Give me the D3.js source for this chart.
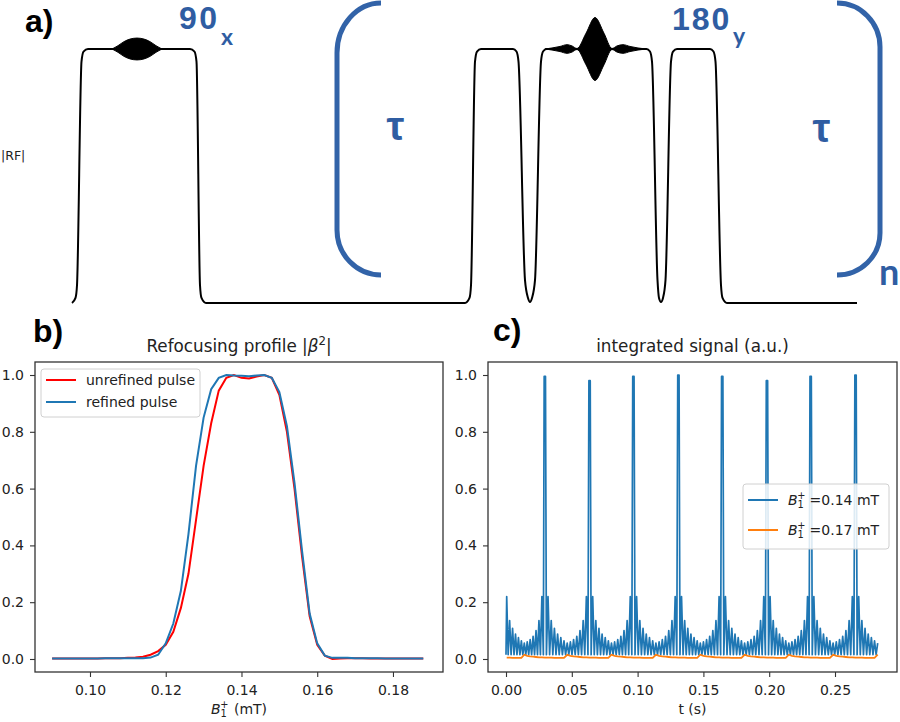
<!DOCTYPE html>
<html><head><meta charset="utf-8">
<script src="https://cdn.jsdelivr.net/npm/d3@7"></script>
<style>body{margin:0;background:#fff}svg{display:block}</style>
</head><body>
<svg id="chart" width="900" height="722"></svg>
<script>
// ================= DATA =================
// Panel a: |RF| envelope (sequence time units, normalised amplitude)
const rfTimes = [0,0.7,1.0,1.9,2.3,3.2,23.6,24.5,24.9,25.6,25.9,26.8,78.6,79.5,79.8,80.6,81.0,81.8,88.2,88.9,89.3,90.6,91.2,91.6,92.0,92.6,93.8,94.2,94.9,114.9,115.6,116.0,117.1,117.4,117.8,118.2,118.7,119.8,120.2,121.0,127.6,128.3,128.7,129.8,130.1,131.0,157];
const rfAmps  = [0,0.02,0.07,0.95,0.99,1,1,0.99,0.95,0.07,0.02,0,0,0.02,0.07,0.95,0.99,1,1,0.99,0.95,0.09,0.02,0.004,0.02,0.09,0.95,0.99,1,1,0.99,0.95,0.09,0.02,0.004,0.02,0.09,0.95,0.99,1,1,0.99,0.95,0.07,0.02,0,0];
// oscillating RF lobes drawn as filled envelopes (half-width about the plateau)
const lobe90Times = [8.0,9.2,10.4,11.6,13.0,14.4,15.6,16.8,18.0];
const lobe90Half  = [0,0.013,0.029,0.039,0.043,0.039,0.029,0.013,0];
const lobe180Times = [94.6,96.0,97.6,99.0,100.0,101.0,102.8,104.6,106.4,108.0,109.0,110.2,111.6,113.2,114.8];
const lobe180Half  = [0,0.004,0.010,0.017,0.012,0.002,0.062,0.124,0.062,0.002,0.012,0.017,0.010,0.004,0];

// Panel b: refocusing profile
const b1Values = [0.090,0.092,0.094,0.096,0.098,0.100,0.102,0.104,0.106,0.108,0.110,0.112,0.114,0.116,0.118,0.120,0.122,0.124,0.126,0.128,0.130,0.132,0.134,0.136,0.138,0.140,0.142,0.144,0.146,0.148,0.150,0.152,0.154,0.156,0.158,0.160,0.162,0.164,0.166,0.168,0.170,0.172,0.174,0.176,0.178,0.180,0.182,0.184,0.186,0.188];
const unrefined = [0.002,0.002,0.002,0.002,0.002,0.002,0.002,0.003,0.003,0.003,0.004,0.005,0.008,0.015,0.028,0.050,0.096,0.180,0.300,0.490,0.680,0.830,0.945,0.990,1.000,0.990,0.988,0.995,1.000,0.990,0.930,0.800,0.600,0.360,0.150,0.050,0.012,0.000,0.002,0.003,0.003,0.003,0.002,0.002,0.002,0.002,0.002,0.002,0.002,0.002];
const refined   = [0.002,0.002,0.002,0.002,0.002,0.002,0.002,0.003,0.003,0.003,0.003,0.003,0.003,0.005,0.015,0.055,0.125,0.240,0.440,0.680,0.850,0.950,0.990,1.000,0.998,0.997,0.996,0.998,1.000,0.990,0.940,0.820,0.620,0.380,0.160,0.055,0.012,0.004,0.004,0.004,0.003,0.003,0.003,0.003,0.002,0.002,0.002,0.002,0.002,0.002];
const bXTicks = [0.10,0.12,0.14,0.16,0.18];
const yTicks  = [0.0,0.2,0.4,0.6,0.8,1.0];

// Panel c: integrated signal (echo train)
const sigPeakTimes  = [-0.0017,0.0295,0.0635,0.0968,0.1310,0.1643,0.1983,0.2315,0.2656,0.2993]; // first/last are outside the record
const sigPeakValues = [null,0.995,0.980,0.995,1.000,0.995,0.980,0.995,1.000,null];
const sigPeakHalfWidth = 0.0005;
const sigToothLevels = [0.220,0.135,0.108,0.088,0.075,0.064,0.056,0.060,0.068,0.080,0.100,0.135,0.220];
const sigLowLevel = 0.015;
const sigOrangeTooth = [0.005,0.005,0.004,0.004,0.004,0.004,0.015,0.011,0.009,0.008,0.007,0.006,0.006];
const sigOrangePeak = 0.005;
const sigEnd = 0.2826;
const cXTicks = [0.00,0.05,0.10,0.15,0.20,0.25];

// ================= DRAW =================
const svg = d3.select('#chart');
svg.append('rect').attr('width',900).attr('height',722).attr('fill','#fff');
const MPL = 'DejaVu Sans, sans-serif';
const BLUE_TXT = '#2F5DA2';
const ARIAL = 'Liberation Sans, Arial, sans-serif';

// ---------- Panel a ----------
const xa = d3.scaleLinear().domain([0,157]).range([72,857]);
const ya = d3.scaleLinear().domain([0,1]).range([303,49]);
const ga = svg.append('g');
const rfData = rfTimes.map((t,i)=>[t, rfAmps[i]]);
ga.append('path').datum(rfData)
  .attr('d', d3.line().x(d=>xa(d[0])).y(d=>ya(d[1])).curve(d3.curveMonotoneX))
  .attr('fill','none').attr('stroke','#000').attr('stroke-width',2);
const lobeArea = d3.area().x(d=>xa(d[0])).y0(d=>ya(1-d[1])).y1(d=>ya(1+d[1])).curve(d3.curveMonotoneX);
ga.append('path').datum(lobe90Times.map((t,i)=>[t,lobe90Half[i]])).attr('d',lobeArea).attr('fill','#000').attr('stroke','#000').attr('stroke-width',1);
ga.append('path').datum(lobe180Times.map((t,i)=>[t,lobe180Half[i]])).attr('d',lobeArea).attr('fill','#000').attr('stroke','#000').attr('stroke-width',1);

// brackets
ga.append('path')
  .attr('d', `M381,3 A44,50 0 0 0 337,53 L337,230 A44,45 0 0 0 381,275`)
  .attr('fill','none').attr('stroke','#3263A8').attr('stroke-width',5).attr('stroke-linecap','butt');
ga.append('path')
  .attr('d', `M837,3 A43,44 0 0 1 880,47 L880,233 A43,42 0 0 1 837,275`)
  .attr('fill','none').attr('stroke','#3263A8').attr('stroke-width',5).attr('stroke-linecap','butt');

const lato = 'Lato, Carlito, sans-serif';
ga.append('text').attr('x',179).attr('y',29).attr('font-family',ARIAL).attr('font-weight','bold').attr('font-size',32).attr('letter-spacing',2.5).attr('fill',BLUE_TXT).text('90');
ga.append('text').attr('x',221).attr('y',45).attr('font-family',lato).attr('font-weight','bold').attr('font-size',23).attr('fill',BLUE_TXT).text('x');
ga.append('text').attr('x',672).attr('y',30).attr('font-family',ARIAL).attr('font-weight','bold').attr('font-size',32).attr('letter-spacing',2).attr('fill',BLUE_TXT).text('180');
ga.append('text').attr('x',733).attr('y',44).attr('font-family',lato).attr('font-weight','bold').attr('font-size',23).attr('fill',BLUE_TXT).text('y');
ga.append('text').attr('x',395.5).attr('y',140).attr('text-anchor','middle').attr('font-family',ARIAL).attr('font-weight','bold').attr('font-size',40).attr('fill',BLUE_TXT).text('τ');
ga.append('text').attr('x',821.5).attr('y',142).attr('text-anchor','middle').attr('font-family',ARIAL).attr('font-weight','bold').attr('font-size',40).attr('fill',BLUE_TXT).text('τ');
ga.append('text').attr('x',879).attr('y',285).attr('font-family',lato).attr('font-weight','bold').attr('font-size',36).attr('fill',BLUE_TXT).text('n');
ga.append('text').attr('x',1).attr('y',160).attr('font-family',MPL).attr('font-size',12.5).attr('fill','#222').text('|RF|');

// panel letters
const letter = (x,y,t)=>svg.append('text').attr('x',x).attr('y',y).attr('font-family',ARIAL).attr('font-weight','bold').attr('font-size',32).attr('fill','#000').text(t);
letter(25,31.5,'a)');
letter(33,341.5,'b)');
letter(493,341,'c)');

// ---------- helpers for b & c ----------
const FS = 14;
const FS_TITLE = 16.8;
function b1Label(txt, suffix, gap){
  txt.append('tspan').attr('font-style','italic').text('B');
  txt.append('tspan').attr('font-size',FS*0.7).attr('dy',3).text('1');
  txt.append('tspan').attr('font-size',FS*0.7).attr('dx',-6.5).attr('dy',-9.5).text('+');
  txt.append('tspan').attr('dx',gap).attr('dy',6.5).text(suffix);
}
function axesFrame(g, x0, x1, y0, y1){
  g.append('rect').attr('x',x0).attr('y',y0).attr('width',x1-x0).attr('height',y1-y0)
    .attr('fill','none').attr('stroke','#333').attr('stroke-width',1.3);
}
function styleAxis(sel){
  sel.select('.domain').remove();
  sel.selectAll('.tick line').attr('stroke','#333').attr('stroke-width',1.1);
  sel.selectAll('.tick text').attr('font-family',MPL).attr('font-size',FS).attr('fill','#222');
}
function legend(g, x, y, w, h, items){
  g.append('rect').attr('x',x).attr('y',y).attr('width',w).attr('height',h).attr('rx',3)
    .attr('fill','#fff').attr('fill-opacity',0.85).attr('stroke','#d0d0d0').attr('stroke-width',1);
  items.forEach((it,i)=>{
    const ly = y + it.first + i*it.gap;
    g.append('line').attr('x1',x+5).attr('x2',x+35).attr('y1',ly).attr('y2',ly).attr('stroke',it.color).attr('stroke-width',2);
    const t = g.append('text').attr('x',x+45).attr('y',ly+5).attr('font-family',MPL).attr('font-size',FS).attr('fill','#222');
    it.label(t);
  });
}

// ---------- Panel b ----------
const bL=35,bR=443,pTop=362,pBot=672;
const xb = d3.scaleLinear().domain([0.08548,0.19321]).range([bL,bR]);
const yv = d3.scaleLinear().domain([-0.0458,1.0458]).range([pBot,pTop]);
const gb = svg.append('g');
const lineB = d3.line().x(d=>xb(d[0])).y(d=>yv(d[1]));
gb.append('path').datum(b1Values.map((v,i)=>[v,unrefined[i]])).attr('d',lineB).attr('fill','none').attr('stroke','#ff0000').attr('stroke-width',2);
gb.append('path').datum(b1Values.map((v,i)=>[v,refined[i]])).attr('d',lineB).attr('fill','none').attr('stroke','#1f77b4').attr('stroke-width',2);
axesFrame(gb,bL,bR,pTop,pBot);
gb.append('g').attr('transform',`translate(0,${pBot})`).call(d3.axisBottom(xb).tickValues(bXTicks).tickFormat(d3.format('.2f')).tickSize(5).tickPadding(8)).call(styleAxis);
gb.append('g').attr('transform',`translate(${bL},0)`).call(d3.axisLeft(yv).tickValues(yTicks).tickFormat(d3.format('.1f')).tickSize(5).tickPadding(6)).call(styleAxis);
// title
const tb = gb.append('text').attr('x',(bL+bR)/2).attr('y',351.5).attr('text-anchor','middle').attr('font-family',MPL).attr('font-size',FS_TITLE).attr('fill','#222');
tb.append('tspan').text('Refocusing profile |');
tb.append('tspan').attr('font-style','italic').text('β');
tb.append('tspan').attr('font-size',FS_TITLE*0.7).attr('dy',-7).text('2');
tb.append('tspan').attr('dy',7).text('|');
const xlb = gb.append('text').attr('x',(bL+bR)/2).attr('y',714).attr('text-anchor','middle').attr('font-family',MPL).attr('font-size',FS).attr('fill','#222');
b1Label(xlb,'  (mT)',1);
legend(gb,41,369,159,48,[
  {color:'#ff0000',first:11,gap:22,label:t=>t.text('unrefined pulse')},
  {color:'#1f77b4',first:11,gap:22,label:t=>t.text('refined pulse')}
]);

// ---------- Panel c ----------
const cL=488,cR=897;
const xc = d3.scaleLinear().domain([-0.01368,0.29711]).range([cL,cR]);
const gc = svg.append('g');
// assemble the echo train from the read peak / tooth levels
const blueSeries=[[0,sigLowLevel]], orangeSeries=[];
for(let k=0;k<sigPeakTimes.length-1;k++){
  const t0=sigPeakTimes[k], t1=sigPeakTimes[k+1];
  const step=(t1-t0)/(sigToothLevels.length+1);
  if(sigPeakValues[k]!==null){
    blueSeries.push([t0-sigPeakHalfWidth,sigPeakValues[k]]);
    blueSeries.push([t0+sigPeakHalfWidth,sigPeakValues[k]]);
    orangeSeries.push([t0,sigOrangePeak]);
  }
  sigToothLevels.forEach((lv,j)=>{
    const tj=t0+(j+1)*step;
    blueSeries.push([tj-step/2,sigLowLevel]);
    blueSeries.push([tj,lv]);
    orangeSeries.push([tj,sigOrangeTooth[j]]);
  });
  blueSeries.push([t1-step/2,sigLowLevel]);
}
const inRange = d=>d[0]>=0 && d[0]<=sigEnd;
const lineC = d3.line().x(d=>xc(d[0])).y(d=>yv(d[1]));
gc.append('path').datum(blueSeries.filter(inRange)).attr('d',lineC).attr('fill','none').attr('stroke','#1f77b4').attr('stroke-width',1.7).attr('stroke-linejoin','round');
gc.append('path').datum(orangeSeries.filter(inRange)).attr('d',lineC).attr('fill','none').attr('stroke','#ff7f0e').attr('stroke-width',1.8);
axesFrame(gc,cL,cR,pTop,pBot);
gc.append('g').attr('transform',`translate(0,${pBot})`).call(d3.axisBottom(xc).tickValues(cXTicks).tickFormat(d3.format('.2f')).tickSize(5).tickPadding(8)).call(styleAxis);
gc.append('g').attr('transform',`translate(${cL},0)`).call(d3.axisLeft(yv).tickValues(yTicks).tickFormat(d3.format('.1f')).tickSize(5).tickPadding(6)).call(styleAxis);
gc.append('text').attr('x',(cL+cR)/2).attr('y',351.5).attr('text-anchor','middle').attr('font-family',MPL).attr('font-size',FS_TITLE).attr('fill','#222').text('integrated signal (a.u.)');
gc.append('text').attr('x',(cL+cR)/2).attr('y',714).attr('text-anchor','middle').attr('font-family',MPL).attr('font-size',FS).attr('fill','#222').text('t (s)');
legend(gc,743,484,146,65,[
  {color:'#1f77b4',first:16,gap:30,label:t=>b1Label(t,'=0.14 mT',4)},
  {color:'#ff7f0e',first:16,gap:30,label:t=>b1Label(t,'=0.17 mT',4)}
]);
</script>
</body></html>
